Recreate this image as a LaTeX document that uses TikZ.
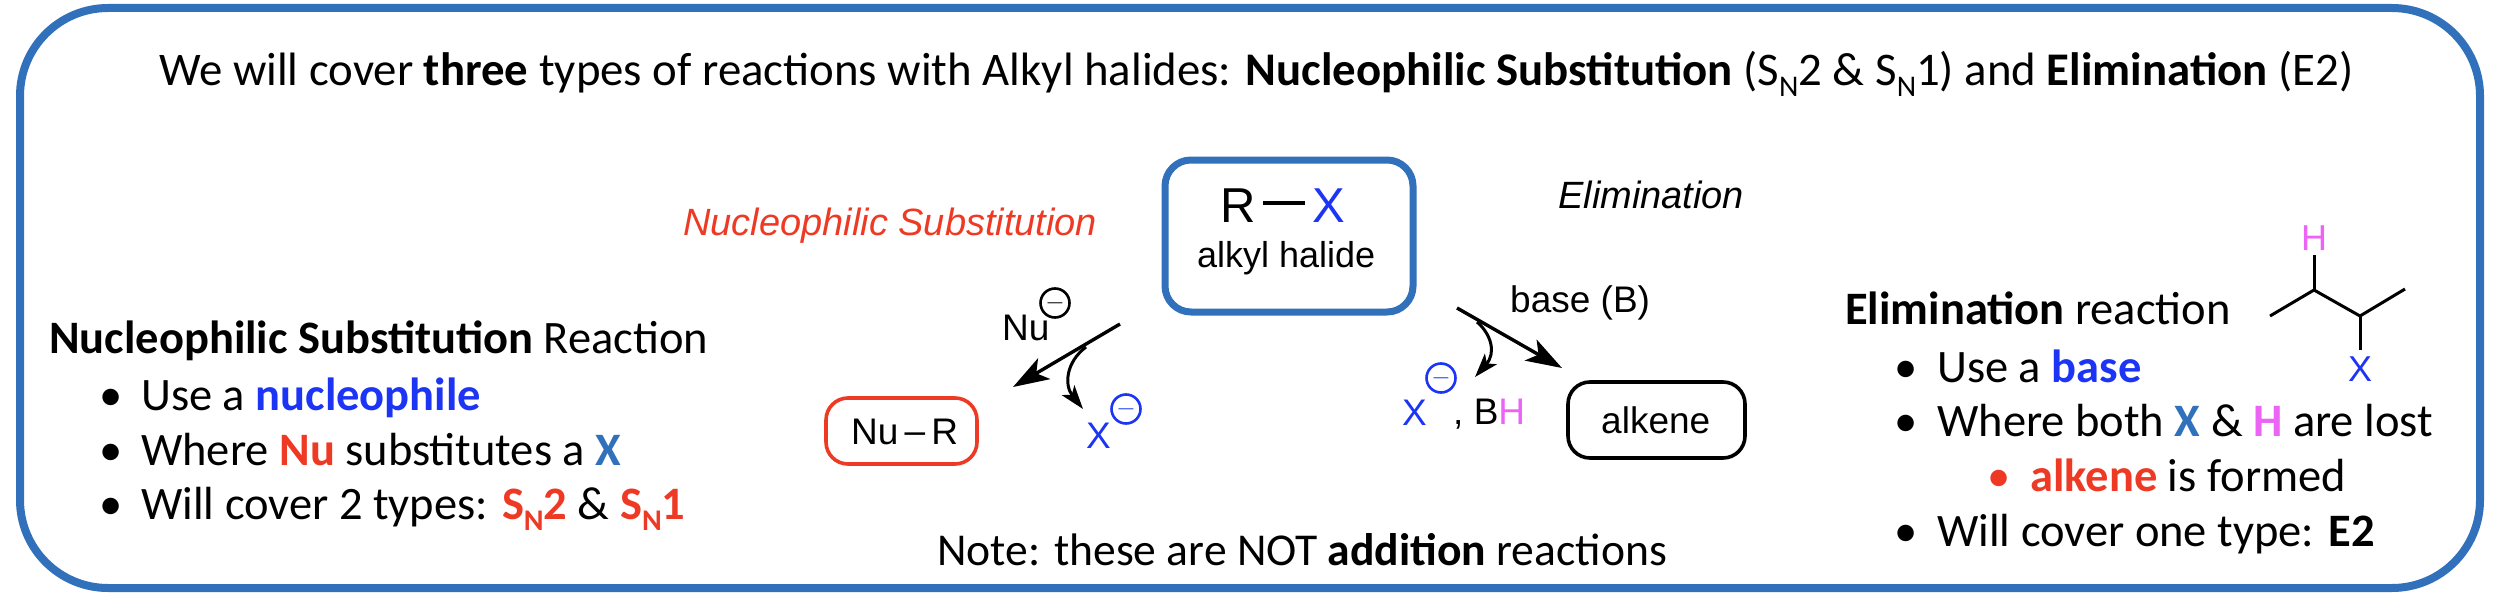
\documentclass[tikz,border=0pt]{standalone}
\usepackage{fontspec}
\setmainfont{Carlito}
\newfontfamily\chem{Liberation Sans}
\usetikzlibrary{arrows.meta}
\definecolor{frameblue}{RGB}{49,112,187}
\definecolor{xblue}{RGB}{28,53,245}
\definecolor{nured}{RGB}{238,58,36}
\definecolor{hpink}{RGB}{235,100,245}
\newcommand{\bu}{\textbullet}
\newcommand{\subN}[1]{S\raisebox{-0.25em}{\fontsize{30}{30}\selectfont N}#1}
\tikzset{
  x=1pt,y=-1pt,
  txt/.style={anchor=base west,inner sep=0pt,font=\fontsize{46.5}{46.5}\selectfont},
  chemtxt/.style={anchor=base west,inner sep=0pt,font=\chem\fontsize{37}{37}\selectfont},
  bond/.style={line width=3pt},
  rxn/.style={line width=3.4pt,-{Stealth[length=36pt,width=24pt,inset=9pt]}},
  curl/.style={line width=3pt,-{Stealth[length=24pt,width=16pt,inset=6pt]}},
  bull/.style={txt,anchor=base},
  chg/.style={circle,draw,line width=2.6pt,minimum size=29pt,inner sep=0pt,font=\chem\bfseries\fontsize{28}{28}\selectfont},
}
\begin{document}
\begin{tikzpicture}
\useasboundingbox (0,0) rectangle (2498,602);
\fill[white] (0,0) rectangle (2498,602);
\draw[frameblue,line width=8pt,rounded corners=88pt] (20,8) rectangle (2480,588);
\node[txt,font=\fontsize{46.8}{46.8}\selectfont] (title) at (159,85) {We will cover \textbf{three} types of reactions with Alkyl halides: \textbf{Nucleophilic Substitution} (\subN{2} \& \subN{1}) and \textbf{Elimination} (E2)};
% centre box
\draw[frameblue,line width=7pt,rounded corners=26pt] (1165,160) rectangle (1413,312);
\node[chemtxt,font=\chem\fontsize{49}{49}\selectfont] (r) at (1220,222) {R};
\node[chemtxt,font=\chem\fontsize{49}{49}\selectfont,text=xblue] (x) at (1312,222) {X};
\coordinate (b1) at (1263,203);
\coordinate (b2) at (1305,203);
\draw[line width=3.6pt] (b1) -- (b2);
\node[chemtxt,font=\chem\fontsize{36}{36}\selectfont] (ah) at (1197,267) {alkyl halide};
% labels
\node[chemtxt,font=\chem\itshape\fontsize{38}{38}\selectfont,text=nured] (ns) at (683,235) {Nucleophilic Substitution};
\node[chemtxt,font=\chem\itshape\fontsize{38}{38}\selectfont] (el) at (1558,208) {Elimination};
% left arrow
\coordinate (l0) at (1120,324);
\coordinate (l1) at (1013,387);
\coordinate (lm) at (1086,347);
\coordinate (l2) at (1083,409);
\draw[rxn] (l0) -- (l1);
\draw[curl] (lm) .. controls (1066,362) and (1064,385) .. (l2);
\node[chemtxt] (nu) at (1002,340) {Nu};
\node[chg] (nuc) at (1055,303) {$-$};
\node[chemtxt,text=xblue] (xm) at (1086,448) {X};
\node[chg,text=xblue,draw=xblue] (xmc) at (1126,409) {$-$};
\node[draw=nured,line width=3.6pt,rounded corners=22pt,minimum width=151pt,minimum height=66pt,inner sep=0pt] (nur) at (901.5,431) {};
\node[chemtxt] (nurt) at (851,444) {Nu\,\raisebox{0.02em}{–}\,R};
% right arrow
\coordinate (r0) at (1457,308);
\coordinate (r1) at (1562,368);
\coordinate (rm) at (1477,322);
\coordinate (r2) at (1475,377);
\draw[rxn] (r0) -- (r1);
\draw[curl] (rm) .. controls (1490,333) and (1497,352) .. (r2);
\node[chemtxt] (bs) at (1510,312) {base (B)};
\node[chemtxt,text=xblue] (xr) at (1402,425) {X};
\node[chg,text=xblue,draw=xblue] (xrc) at (1441,378) {$-$};
\node[chemtxt] (bh) at (1453,424) {, B\textcolor{hpink}{H}};
\node[draw=black,line width=3.6pt,rounded corners=22pt,minimum width=177pt,minimum height=76pt,inner sep=0pt] (alk) at (1656.5,420) {};
\node[chemtxt] (alkt) at (1601,433) {alkene};
% left text
\node[txt] (lt) at (49,353) {\textbf{Nucleophilic Substitution} Reaction};
\node[bull] (lb1) at (111,410) {\bu}; \node[txt] (l1t) at (141,410) {Use a \textcolor{xblue}{\textbf{nucleophile}}};
\node[bull] (lb2) at (111,465) {\bu}; \node[txt] (l2t) at (141,465) {Where \textcolor{nured}{\textbf{Nu}} substitutes a \textcolor{frameblue}{\textbf{X}}};
\node[bull] (lb3) at (111,519) {\bu}; \node[txt] (l3t) at (141,519) {Will cover 2 types: \textcolor{nured}{\textbf{\subN{2}}} \& \textcolor{nured}{\textbf{\subN{1}}}};
% note
\node[txt,font=\fontsize{45.6}{45.6}\selectfont] (note) at (937,565) {Note: these are NOT \textbf{addition} reactions};
% right text
\node[txt] (rt) at (1845,324) {\textbf{Elimination} reaction};
\node[bull] (rb1) at (1906,382) {\bu}; \node[txt] (r1t) at (1937,382) {Use a \textcolor{xblue}{\textbf{base}}};
\node[bull] (rb2) at (1906,436) {\bu}; \node[txt] (r2t) at (1937,436) {Where both \textcolor{frameblue}{\textbf{X}} \& \textcolor{hpink}{\textbf{H}} are lost};
\node[bull,text=nured] (rb3) at (1999,491) {\bu}; \node[txt] (r3t) at (2030,491) {\textcolor{nured}{\textbf{alkene}} is formed};
\node[bull] (rb4) at (1906,546) {\bu}; \node[txt] (r4t) at (1937,546) {Will cover one type: \textbf{E2}};
% molecule
\coordinate (m1) at (2270,316);
\coordinate (m2) at (2314,290);
\coordinate (m3) at (2360,316);
\coordinate (m4) at (2405,289);
\coordinate (mh) at (2314,255);
\coordinate (mx) at (2360,350);
\draw[bond,line join=round] (m1) -- (m2) -- (m3) -- (m4);
\draw[bond] (m2) -- (mh);
\draw[bond] (m3) -- (mx);
\node[chemtxt,text=hpink,anchor=base,font=\chem\fontsize{36}{36}\selectfont] (hlab) at (2314,250) {H};
\node[chemtxt,text=xblue,anchor=base,font=\chem\fontsize{36}{36}\selectfont] (xlab) at (2360,381) {X};
\end{tikzpicture}
\end{document}
